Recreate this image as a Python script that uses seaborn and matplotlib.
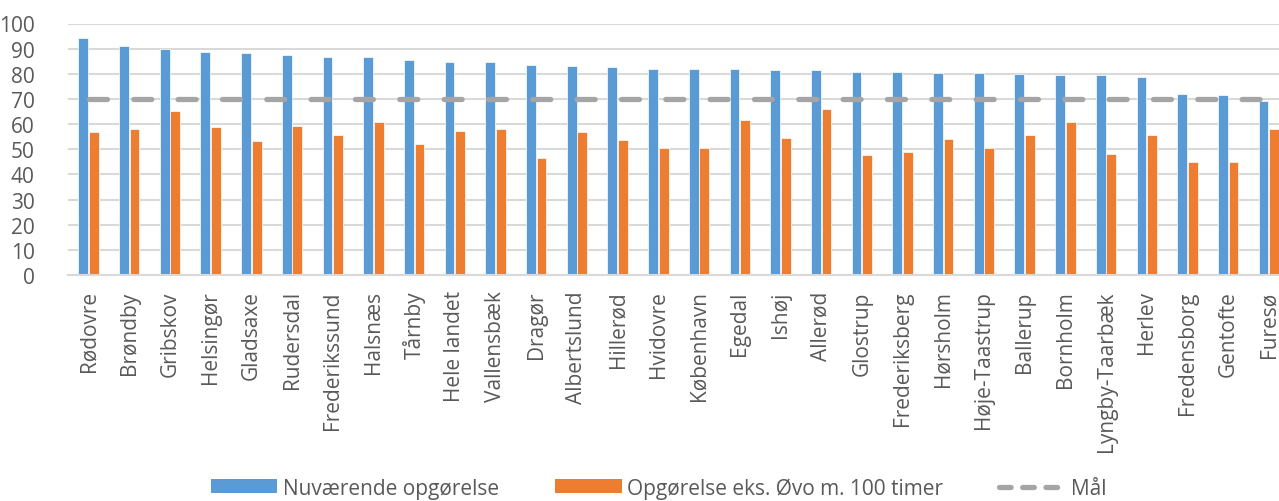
import numpy as np
import pandas as pd
import matplotlib
matplotlib.use("Agg")
import matplotlib.pyplot as plt
import seaborn as sns
from matplotlib.lines import Line2D
from matplotlib.patches import Patch

kommuner = ["Rødovre", "Brøndby", "Gribskov", "Helsingør", "Gladsaxe", "Rudersdal",
            "Frederikssund", "Halsnæs", "Tårnby", "Hele landet", "Vallensbæk", "Dragør",
            "Albertslund", "Hillerød", "Hvidovre", "København", "Egedal", "Ishøj",
            "Allerød", "Glostrup", "Frederiksberg", "Hørsholm", "Høje-Taastrup",
            "Ballerup", "Bornholm", "Lyngby-Taarbæk", "Herlev", "Fredensborg",
            "Gentofte", "Furesø"]
nuvaerende = [94.1, 90.9, 89.9, 88.8, 88.4, 87.5, 86.8, 86.8, 85.4, 84.7, 84.7, 83.5,
              83.1, 82.7, 82.0, 81.9, 81.8, 81.7, 81.7, 80.7, 80.6, 80.3, 80.3, 79.8,
              79.7, 79.4, 78.7, 72.0, 71.6, 69.2]
eks_ovo = [56.9, 58.1, 65.1, 58.7, 53.3, 59.2, 55.7, 60.8, 52.0, 57.3, 57.9, 46.6,
           56.9, 53.7, 50.6, 50.5, 61.5, 54.3, 66.0, 47.8, 49.0, 54.0, 50.5, 55.7,
           60.7, 48.1, 55.7, 44.9, 44.9, 58.1]
maal = [70] * len(kommuner)
serier = ["Nuværende opgørelse", "Opgørelse eks. Øvo m. 100 timer"]
maal_label = "Mål"
yticks = list(range(0, 101, 10))

BLUE = "#5B9BD5"
ORANGE = "#ED7D31"
GREY = "#A5A5A5"
TXT = "#595959"
GRID = "#D9D9D9"

df = pd.DataFrame({
    "Kommune": kommuner * 2,
    "Serie": [serier[0]] * len(kommuner) + [serier[1]] * len(kommuner),
    "Værdi": nuvaerende + eks_ovo,
})

sns.set_style("white")
plt.rcParams["font.family"] = ["Open Sans", "DejaVu Sans"]

fig = plt.figure(figsize=(12.79, 5.02), dpi=100)
ax = fig.add_axes([68.2 / 1279, (502 - 276) / 502, (1289.2 - 68.2) / 1279, (276 - 24.5) / 502])

sns.barplot(data=df, x="Kommune", y="Værdi", hue="Serie", order=kommuner,
            hue_order=serier, palette=[BLUE, ORANGE], saturation=1,
            width=0.52, gap=0.08, errorbar=None, edgecolor="white", linewidth=0.5,
            legend=False, ax=ax, zorder=2)

xpos = np.arange(len(kommuner))
ax.plot(xpos, maal, color=GREY, lw=3.8, dashes=(3.4, 5.0),
        dash_capstyle="round", solid_capstyle="round", zorder=3)

ax.set_ylim(0, 100)
ax.set_xlim(-0.5, len(kommuner) - 0.5)
ax.set_yticks(yticks)
ax.set_yticklabels([str(v) for v in yticks])
ax.set_xlabel("")
ax.set_ylabel("")
ax.grid(axis="y", color=GRID, lw=1.5, zorder=0)
ax.set_axisbelow(True)
for s in ["top", "right", "left"]:
    ax.spines[s].set_visible(False)
ax.spines["bottom"].set_color(GRID)
ax.spines["bottom"].set_linewidth(1.5)
ax.tick_params(axis="y", length=0, pad=24, labelsize=15, labelcolor=TXT)
ax.tick_params(axis="x", length=0, pad=11, labelsize=15, labelcolor=TXT)
for lab in ax.get_yticklabels():
    lab.set_horizontalalignment("right")
plt.setp(ax.get_xticklabels(), rotation=90, va="top", ha="center")

handles = [Patch(facecolor=BLUE, edgecolor="none"),
           Patch(facecolor=ORANGE, edgecolor="none"),
           Line2D([0], [0], color=GREY, lw=3.8, dashes=(2.2, 2.2), dash_capstyle="round")]
fig.legend(handles, serier + [maal_label], loc="center", bbox_to_anchor=(0.515, 0.026),
           ncol=3, frameon=False, fontsize=15, labelcolor=TXT, handlelength=3.2,
           handleheight=0.65, handletextpad=0.25, columnspacing=2.7)

fig.savefig("out.png", dpi=100)
